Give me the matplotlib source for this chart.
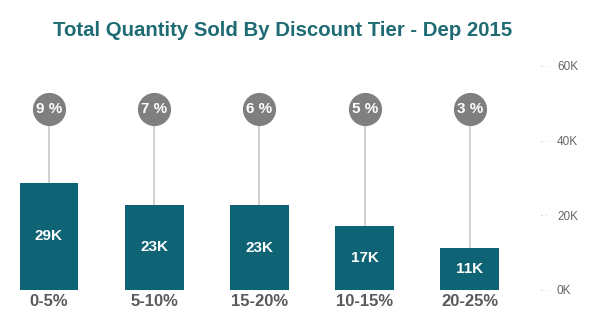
import matplotlib
matplotlib.use("Agg")
import matplotlib.pyplot as plt
import matplotlib.transforms as mtransforms

categories = ["0-5%", "5-10%", "15-20%", "10-15%", "20-25%"]
quantity = [28700, 22800, 22700, 17100, 11300]
bar_labels = ["29K", "23K", "23K", "17K", "11K"]
discount_pct = ["9 %", "7 %", "6 %", "5 %", "3 %"]
yticks = [0, 20000, 40000, 60000]
ytick_labels = ["0K", "20K", "40K", "60K"]

W, H = 597, 331
fig = plt.figure(figsize=(W / 100, H / 100), dpi=100)
fig.patch.set_facecolor("white")

ax_left_px, ax_w_px = 0, 525
ax_bottom_px, ax_top_px = 290, 66
ax = fig.add_axes([ax_left_px / W, (H - ax_bottom_px) / H,
                   ax_w_px / W, (ax_bottom_px - ax_top_px) / H])
ax.set_xlim(-0.4656, 4.523)
ax.set_ylim(0, 60000)

bar_color = "#0E6474"
x = list(range(len(categories)))
ax.bar(x, quantity, width=0.56, color=bar_color, zorder=2)

circle_y = 48600
for i, (q, lab, pct) in enumerate(zip(quantity, bar_labels, discount_pct)):
    ax.plot([i, i], [q, circle_y], color="#C8C8C8", lw=1.2, zorder=1)
    ax.text(i, q / 2, lab, ha="center", va="center", color="white",
            fontsize=11, fontweight="bold", family="Liberation Sans", zorder=3)
    ax.text(i, circle_y, pct, ha="center", va="center", color="white",
            fontsize=11, fontweight="bold", family="Liberation Sans", zorder=4)
ax.scatter(x, [circle_y] * len(x), s=570, color="#7F7F7F", zorder=3, linewidths=0)

for s in ax.spines.values():
    s.set_visible(False)

ax.set_xticks(x)
ax.set_xticklabels(categories, fontsize=12, fontweight="bold", color="#595959",
                   family="Liberation Sans")
ax.tick_params(axis="x", length=0, pad=3)

ax.yaxis.tick_right()
ax.set_yticks(yticks)
ax.set_yticklabels(ytick_labels, fontsize=8.5, color="#666666", family="Liberation Sans")
ax.tick_params(axis="y", length=0, pad=23)

trans = mtransforms.blended_transform_factory(ax.transAxes, ax.transData)
for yv in yticks:
    ax.plot([1.03, 1.04], [yv, yv], transform=trans, color="#BBBBBB", lw=0.8,
            linestyle=(0, (1, 3)), clip_on=False)

fig.text(283 / W, 1 - 31 / H, "Total Quantity Sold By Discount Tier - Dep 2015",
         ha="center", va="center", fontsize=14.7, fontweight="bold",
         color="#1F6B73", family="Liberation Sans")

fig.savefig("out.png", dpi=100, facecolor="white")
